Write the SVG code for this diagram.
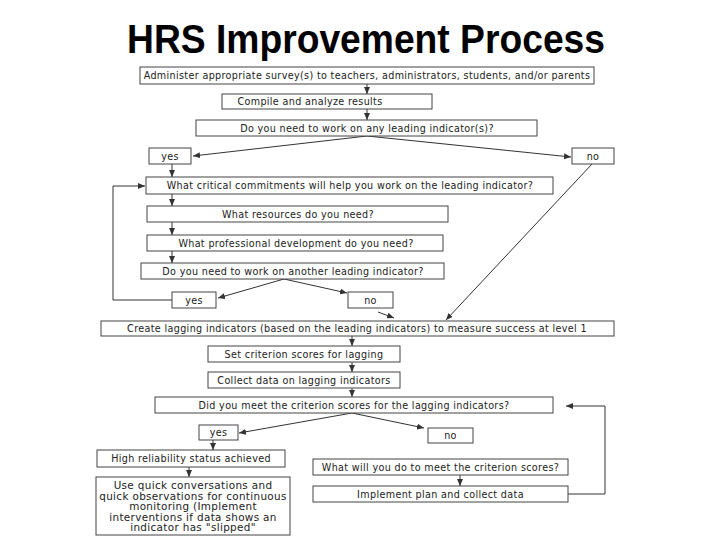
<svg xmlns="http://www.w3.org/2000/svg" width="720" height="540" viewBox="0 0 720 540">
<style>
  .box { fill: #ffffff; stroke: #444444; stroke-width: 1; }
  .t { font-family: "DejaVu Sans", Verdana, sans-serif; font-size: 9.6px; letter-spacing: 0.35px; fill: #222222; text-anchor: middle; }
  .t2 { font-family: "DejaVu Sans", Verdana, sans-serif; font-size: 10.4px; letter-spacing: 0.35px; fill: #222222; text-anchor: middle; }
  .arr { fill: none; stroke: #333333; stroke-width: 1; marker-end: url(#ah); }
</style>
<defs>
  <marker id="ah" markerWidth="7" markerHeight="6" refX="7" refY="3" orient="auto" markerUnits="userSpaceOnUse">
    <path d="M0,0 L7,3 L0,6 z" fill="#333333"/>
  </marker>
</defs>
<rect width="720" height="540" fill="#ffffff"/>
<text x="366" y="53" font-family="'Liberation Sans', Arial, sans-serif" font-weight="bold" font-size="40" fill="#000000" text-anchor="middle" textLength="478" lengthAdjust="spacingAndGlyphs">HRS Improvement Process</text>

<g id="connectors">
  <path class="arr" d="M367,84 L367,94"/>
  <path class="arr" d="M367,109 L367,120"/>
  <path class="arr" d="M367,136 L193,156"/>
  <path class="arr" d="M367,136 L571,157"/>
  <path class="arr" d="M172,164 L172,177"/>
  <path class="arr" d="M592,164 L446,320"/>
  <path class="arr" d="M172,194 L172,206"/>
  <path class="arr" d="M172,222 L172,235"/>
  <path class="arr" d="M172,251 L172,263"/>
  <path class="arr" d="M284,279 L218,298"/>
  <path class="arr" d="M284,279 L347,293"/>
  <path class="arr" d="M172,300 L113,300 L113,186 L145,186"/>
  <path class="arr" d="M378,312 L394,318"/>
  <path class="arr" d="M352,336 L352,346"/>
  <path class="arr" d="M352,362 L352,372"/>
  <path class="arr" d="M352,388 L352,397"/>
  <path class="arr" d="M352,413 L239,433"/>
  <path class="arr" d="M352,413 L424,428"/>
  <path class="arr" d="M213,440 L213,450"/>
  <path class="arr" d="M189,467 L189,477"/>
  <path class="arr" d="M460,475 L460,486"/>
  <path class="arr" d="M568,494 L605,494 L605,406 L566,406"/>
</g>

<g id="n1"><rect class="box" x="140" y="67" width="454" height="17"/><text class="t" x="367" y="79">Administer appropriate survey(s) to teachers, administrators, students, and/or parents</text></g>
<g id="n2"><rect class="box" x="222" y="94" width="210" height="15"/><text class="t" x="310" y="105">Compile and analyze results</text></g>
<g id="n3"><rect class="box" x="196" y="120" width="341" height="16"/><text class="t" x="367" y="131.5">Do you need to work on any leading indicator(s)?</text></g>
<g id="n4"><rect class="box" x="149" y="148" width="42" height="16"/><text class="t" x="170" y="159.5">yes</text></g>
<g id="n5"><rect class="box" x="572" y="148" width="42" height="16"/><text class="t" x="593" y="159.5">no</text></g>
<g id="n6"><rect class="box" x="146" y="177" width="407" height="17"/><text class="t" x="350" y="189">What critical commitments will help you work on the leading indicator?</text></g>
<g id="n7"><rect class="box" x="147" y="206" width="301" height="16"/><text class="t" x="298" y="217.5">What resources do you need?</text></g>
<g id="n8"><rect class="box" x="147" y="235" width="296" height="16"/><text class="t" x="296" y="246.5">What professional development do you need?</text></g>
<g id="n9"><rect class="box" x="141" y="263" width="303" height="16"/><text class="t" x="293" y="274.5">Do you need to work on another leading indicator?</text></g>
<g id="n10"><rect class="box" x="172" y="292" width="44" height="16"/><text class="t" x="194" y="303.5">yes</text></g>
<g id="n11"><rect class="box" x="348" y="292" width="45" height="16"/><text class="t" x="370.5" y="303.5">no</text></g>
<g id="n12"><rect class="box" x="101" y="321" width="513" height="15"/><text class="t" x="357" y="332">Create lagging indicators (based on the leading indicators) to measure success at level 1</text></g>
<g id="n13"><rect class="box" x="208" y="346" width="192" height="16"/><text class="t" x="304" y="357.5">Set criterion scores for lagging</text></g>
<g id="n14"><rect class="box" x="208" y="372" width="192" height="16"/><text class="t" x="304" y="383.5">Collect data on lagging indicators</text></g>
<g id="n15"><rect class="box" x="155" y="397" width="398" height="16"/><text class="t" x="354" y="408.5">Did you meet the criterion scores for the lagging indicators?</text></g>
<g id="n16"><rect class="box" x="199" y="425" width="39" height="15"/><text class="t" x="218.5" y="436">yes</text></g>
<g id="n17"><rect class="box" x="428" y="428" width="45" height="15"/><text class="t" x="450.5" y="439">no</text></g>
<g id="n18"><rect class="box" x="97" y="450" width="188" height="17"/><text class="t" x="191" y="462">High reliability status achieved</text></g>
<g id="n19"><rect class="box" x="96" y="477" width="194" height="58"/>
  <text class="t2" x="193" y="489">Use quick conversations and</text>
  <text class="t2" x="193" y="499.5">quick observations for continuous</text>
  <text class="t2" x="193" y="510">monitoring (Implement</text>
  <text class="t2" x="193" y="520.5">interventions if data shows an</text>
  <text class="t2" x="193" y="531">indicator has "slipped"</text>
</g>
<g id="n20"><rect class="box" x="313" y="459" width="255" height="16"/><text class="t" x="440.5" y="470.5">What will you do to meet the criterion scores?</text></g>
<g id="n21"><rect class="box" x="313" y="486" width="255" height="16"/><text class="t" x="440.5" y="497.5">Implement plan and collect data</text></g>
</svg>
